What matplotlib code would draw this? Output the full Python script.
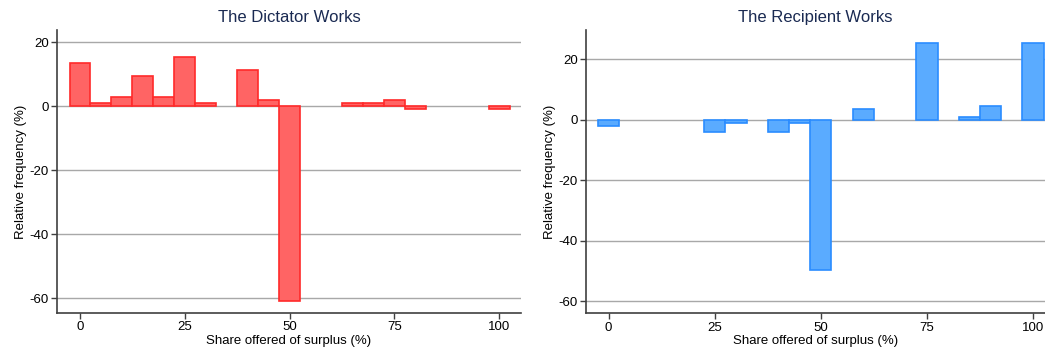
import matplotlib
matplotlib.use("Agg")
import matplotlib.pyplot as plt

plt.rcParams["font.family"] = ["Liberation Sans", "DejaVu Sans"]
plt.rcParams["axes.unicode_minus"] = False

# -----------------------------
# Data: share offered (bin centres, width 5) and relative frequency (%)
# -----------------------------
dictator_share = [0, 5, 10, 15, 20, 25, 30, 40, 45, 50, 65, 70, 75, 80, 100]
dictator_freq = [13.3, 0.8, 2.9, 9.5, 2.9, 15.2, 0.8, 11.4, 1.9, -61.0,
                 0.8, 0.8, 1.9, -1.0, -1.0]

recipient_share = [0, 25, 30, 40, 45, 50, 60, 75, 85, 90, 100]
recipient_freq = [-2.0, -4.0, -1.0, -4.0, -1.0, -49.6, 3.6, 25.5, 0.8, 4.6, 25.5]

x_ticks = [0, 25, 50, 75, 100]
y_ticks = [20, 0, -20, -40, -60]

title_color = "#1a2a52"
grid_color = "#a8a8a8"
spine_color = "#404040"

fig = plt.figure(figsize=(10.45, 3.49), dpi=100)
ax1 = fig.add_axes([0.0545, 0.103, 0.444, 0.811])
ax2 = fig.add_axes([0.5608, 0.102, 0.4392, 0.812])

panels = [
    (ax1, dictator_share, dictator_freq, "#ff6464", "#ff2a2a",
     "The Dictator Works", (-5.5, 105.2), (-64.7, 23.75)),
    (ax2, recipient_share, recipient_freq, "#5aabff", "#2a8cff",
     "The Recipient Works", (-5.3, 102.8), (-64.0, 29.7)),
]

for ax, share, freq, fill, edge, title, xlim, ylim in panels:
    ax.set_axisbelow(True)
    ax.yaxis.grid(True, color=grid_color, linewidth=1.0)
    ax.bar(share, freq, width=5, color=fill, edgecolor=edge, linewidth=1.2)
    ax.set_xlim(*xlim)
    ax.set_ylim(*ylim)
    ax.set_xticks(x_ticks)
    ax.set_yticks(y_ticks)
    ax.set_title(title, color=title_color, fontsize=12, pad=6)
    ax.set_xlabel("Share offered of surplus (%)", fontsize=9.5, labelpad=1)
    ax.set_ylabel("Relative frequency (%)", fontsize=9.5, labelpad=2)
    ax.tick_params(labelsize=9.5, length=4, width=1, color=spine_color, pad=2)
    for side in ["top", "right"]:
        ax.spines[side].set_visible(False)
    for side in ["left", "bottom"]:
        ax.spines[side].set_color(spine_color)
        ax.spines[side].set_linewidth(1.2)

fig.savefig("out.png", dpi=100)
